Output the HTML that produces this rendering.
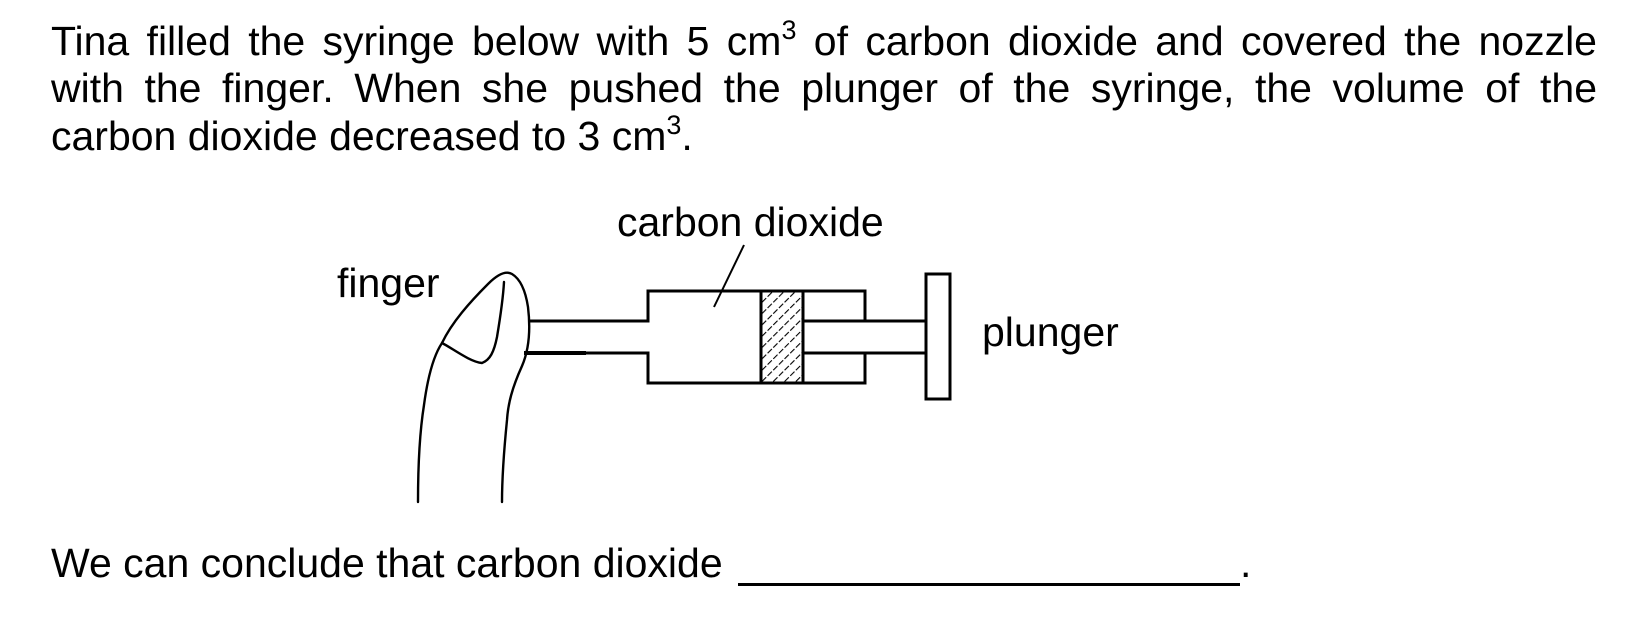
<!DOCTYPE html>
<html><head><meta charset="utf-8"><style>
html,body{margin:0;padding:0;background:#fff;}
body{width:1637px;height:624px;position:relative;overflow:hidden;font-family:"Liberation Sans",Arial,sans-serif;color:#000;}
.l{position:absolute;left:51px;width:1546px;font-size:41px;line-height:47.5px;text-align:justify;text-align-last:justify;white-space:nowrap;}
.l3{text-align:left;text-align-last:left;}
sup{font-size:27px;line-height:0;vertical-align:16px;}
.b{position:absolute;left:51px;top:540px;font-size:41px;line-height:47.5px;white-space:nowrap;}
.u{position:absolute;left:738px;top:583px;width:502px;height:3px;background:#000;}
.dot{position:absolute;left:1240px;top:540px;font-size:41px;line-height:47.5px;}
svg{position:absolute;left:0;top:0;}
</style></head><body>
<div class="l" style="top:18px">Tina filled the syringe below with 5 cm<sup>3</sup> of carbon dioxide and covered the nozzle</div>
<div class="l" style="top:65px">with the finger. When she pushed the plunger of the syringe, the volume of the</div>
<div class="l l3" style="top:113px">carbon dioxide decreased to 3 cm<sup>3</sup>.</div>
<svg width="1637" height="624" viewBox="0 0 1637 624">
<defs><pattern id="h" width="8" height="8" patternUnits="userSpaceOnUse" patternTransform="rotate(45)"><line x1="0" y1="0" x2="0" y2="8" stroke="#000" stroke-width="2.2" stroke-dasharray="3 2"/></pattern></defs>
<g font-family="Liberation Sans, Arial, sans-serif" font-size="41" fill="#000">
<text x="617" y="236">carbon dioxide</text>
<text x="337" y="297">finger</text>
<text x="982" y="346">plunger</text>
</g>
<g fill="none" stroke="#000" stroke-width="3">
<path d="M529 321 H648 V291 H865 V321 M865 353 V383 H648 V353 H524"/>
<rect x="761" y="291" width="42" height="92" fill="url(#h)"/>
<path d="M803 321 H926 M803 353 H926"/>
<rect x="926" y="274" width="24" height="125" fill="#fff"/>
<line x1="744" y1="245" x2="714" y2="307" stroke-width="2"/>
<line x1="524" y1="353" x2="586" y2="353" stroke-width="4"/>
</g>
<g fill="none" stroke="#000" stroke-width="2.4" stroke-linecap="round">
<path d="M418 502 C418 460 420 430 424 405 C428 375 434 355 442 343 C452 322 470 302 488 284 C496 276 505 270 512 274 C522 280 526 294 528 307 C531 332 528 352 522 366 C512 388 508 404 507 420 C504 450 502 478 502 502"/>
<path d="M504 282 C503 300 499 325 497 337 C494 352 490 360 482 363 C470 362 452 348 442 343"/>
</g>
</svg>
<div class="b">We can conclude that carbon dioxide</div>
<div class="u"></div>
<div class="dot">.</div>
</body></html>
